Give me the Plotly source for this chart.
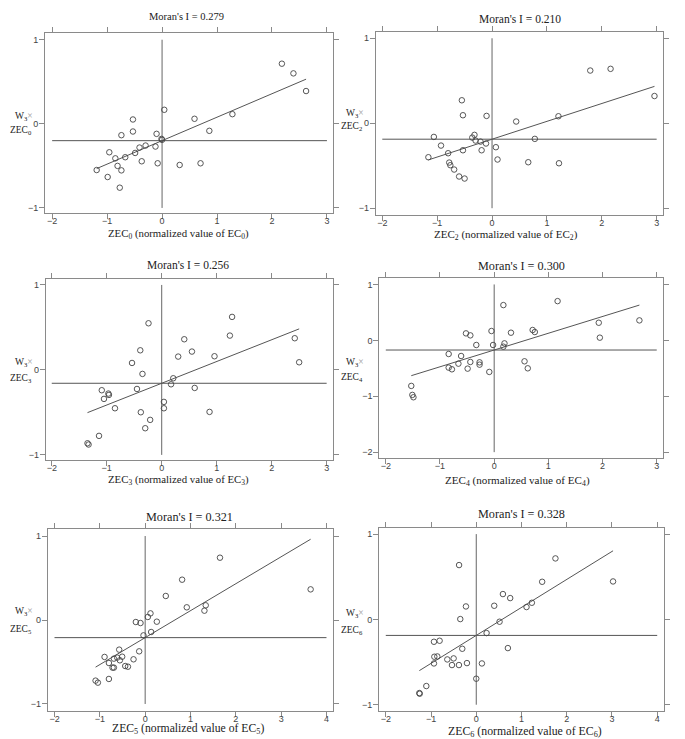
import plotly.graph_objects as go

# ---------------- data ----------------
morans_i = [0.279, 0.210, 0.256, 0.300, 0.321, 0.328]
mean_lag = [-0.20, -0.188, -0.157, -0.173, -0.21, -0.1875]
sub_idx = ["0", "2", "3", "4", "5", "6"]

x_ticks_a = [-2, -1, 0, 1, 2, 3]
x_ticks_b = [-2, -1, 0, 1, 2, 3, 4]
y_ticks_a = [-1, 0, 1]
y_ticks_b = [-2, -1, 0, 1]

zec0_x = [2.18, 2.39, 2.62, 1.28, 0.59, 0.86, 0.04, -0.53, -0.53, -0.74, -0.10, -0.01, 0.00,
          -0.30, -0.41, -0.12, -0.49, -0.67, -0.85, -0.96, -0.37, -0.08, 0.32, 0.70, -0.81,
          -0.74, -1.19, -0.99, -0.77]
zec0_y = [0.715, 0.60, 0.39, 0.115, 0.06, -0.083, 0.167, 0.052, -0.091, -0.135, -0.119, -0.179,
          -0.19, -0.258, -0.282, -0.27, -0.346, -0.397, -0.41, -0.338, -0.445, -0.469, -0.489,
          -0.469, -0.50, -0.553, -0.549, -0.632, -0.759]

zec2_x = [1.79, 2.16, 2.96, 1.21, 0.44, 0.78, -0.55, -0.53, -0.10, -1.06, -0.32, -0.36, -0.30,
          -0.21, -0.11, -0.93, -0.19, -0.53, 0.07, -0.80, 0.10, -1.16, -0.78, -0.76, -0.69,
          0.66, 1.22, -0.60, -0.50]
zec2_y = [0.62, 0.64, 0.32, 0.082, 0.02, -0.184, 0.27, 0.094, 0.086, -0.161, -0.137, -0.169,
          -0.204, -0.216, -0.239, -0.263, -0.318, -0.318, -0.282, -0.353, -0.427, -0.40, -0.463,
          -0.494, -0.545, -0.459, -0.471, -0.627, -0.651]

zec3_x = [1.28, -0.24, 1.24, 0.41, 2.42, -0.39, 0.55, 0.30, 0.96, -0.54, 2.50, -0.35, 0.21,
          0.17, -0.45, 0.60, -1.09, -0.97, -0.96, -1.05, -0.85, 0.04, 0.04, -0.38, 0.87,
          -0.21, -0.30, -1.14, -1.35, -1.33]
zec3_y = [0.624, 0.549, 0.404, 0.361, 0.373, 0.231, 0.216, 0.157, 0.161, 0.082, 0.09, -0.047,
          -0.098, -0.169, -0.224, -0.212, -0.239, -0.278, -0.294, -0.341, -0.451, -0.376,
          -0.451, -0.498, -0.494, -0.588, -0.686, -0.776, -0.863, -0.878]

zec4_x = [1.17, 0.17, 2.68, 1.93, 1.95, 0.71, 0.75, 0.31, -0.05, -0.52, -0.44, -0.33, -0.02,
          0.19, 0.17, -0.84, -0.61, -0.66, -0.44, -0.27, -0.27, -0.84, -0.78, -0.49, -0.09,
          0.56, 0.62, -1.53, -1.51, -1.49]
zec4_y = [0.702, 0.631, 0.357, 0.315, 0.048, 0.185, 0.149, 0.137, 0.167, 0.125, 0.089, -0.083,
          -0.083, -0.054, -0.113, -0.244, -0.28, -0.417, -0.387, -0.393, -0.435, -0.488,
          -0.518, -0.506, -0.565, -0.375, -0.50, -0.815, -0.976, -1.018]

zec5_x = [1.65, 0.815, 3.65, 0.455, 0.918, 1.336, 1.307, 0.117, 0.059, -0.206, -0.103, 0.257,
          0.132, -0.037, -0.573, -0.132, -0.896, -0.507, -0.617, -0.69, -0.558, -0.257, -0.80,
          -0.72, -0.69, -0.44, -0.38, -0.80, -1.094, -1.043]
zec5_y = [0.742, 0.48, 0.365, 0.286, 0.151, 0.175, 0.111, 0.079, 0.036, -0.024, -0.036, -0.02,
          -0.143, -0.183, -0.353, -0.373, -0.44, -0.437, -0.448, -0.46, -0.48, -0.468, -0.512,
          -0.567, -0.567, -0.548, -0.556, -0.702, -0.722, -0.746]

zec6_x = [1.75, -0.38, 1.457, 3.024, 0.589, 0.75, -0.228, 0.397, 1.229, 1.111, -0.353, 0.515,
          0.228, -0.935, -0.81, -0.309, 0.699, -0.927, -0.861, -0.64, -0.50, -0.935, -0.537,
          -0.383, -0.206, 0.125, 0.0, -1.104, -1.258, -1.25]
zec6_y = [0.715, 0.637, 0.441, 0.445, 0.297, 0.25, 0.152, 0.16, 0.195, 0.145, 0.004, -0.027,
          -0.16, -0.262, -0.25, -0.344, -0.336, -0.4375, -0.434, -0.469, -0.457, -0.516,
          -0.535, -0.535, -0.512, -0.516, -0.695, -0.781, -0.863, -0.871]

xs = [zec0_x, zec2_x, zec3_x, zec4_x, zec5_x, zec6_x]
ys = [zec0_y, zec2_y, zec3_y, zec4_y, zec5_y, zec6_y]
xticks = [x_ticks_a, x_ticks_a, x_ticks_a, x_ticks_a, x_ticks_b, x_ticks_b]
yticks = [y_ticks_a, y_ticks_a, y_ticks_a, y_ticks_b, y_ticks_a, y_ticks_a]

# ---------------- layout geometry (pixels) ----------------
W, H = 685, 739
# box: left, right, top, bottom
boxes = [(45, 333, 33, 213), (375.7, 662.7, 32.3, 215), (45.7, 332.7, 279, 460),
         (379.3, 662.7, 278.3, 458.3), (47.7, 333.3, 529.3, 710.7), (379, 664, 527.7, 710.7)]
xranges = [[-2.13, 3.11], [-2.12, 3.11], [-2.11, 3.11], [-2.12, 3.11], [-2.15, 4.15], [-2.15, 4.15]]
yranges = [[-1.06, 1.08], [-1.08, 1.07], [-1.06, 1.07], [-2.11, 1.11], [-1.08, 1.08], [-1.07, 1.075]]
title_pos = [(187, 17, 10.5), (520, 19, 11.5), (188, 265, 11.5), (521.7, 265.7, 12.2),
             (189, 516.7, 12.2), (521, 514.3, 12.2)]
xlab_pos = [(178.5, 234, 10.8), (506, 235, 11.0), (178, 480, 10.8), (517, 481, 11.1),
            (188, 729, 11.7), (525, 731, 11.8)]
ylab_pos = [(8, 117, 130), (339, 113, 127), (8, 362.7, 378), (339, 362.7, 377),
            (8, 611.7, 629), (339, 613, 630.7)]

serif = "Liberation Serif, Times New Roman, serif"
sans = "Liberation Sans, Arial, sans-serif"

fig = go.Figure()
annotations = []

for i in range(6):
    n = "" if i == 0 else str(i + 1)
    xa, ya = "x" + n, "y" + n
    L, R, T, B = boxes[i]
    xt, yt = xticks[i], yticks[i]

    # vertical reference line at x = 0
    fig.add_trace(go.Scatter(x=[0, 0], y=[min(yt), max(yt)], mode="lines",
                             line=dict(color="#666", width=1), xaxis=xa, yaxis=ya,
                             showlegend=False, hoverinfo="skip"))
    # horizontal reference line at mean lag
    fig.add_trace(go.Scatter(x=[min(xt), max(xt)], y=[mean_lag[i], mean_lag[i]], mode="lines",
                             line=dict(color="#555", width=1), xaxis=xa, yaxis=ya,
                             showlegend=False, hoverinfo="skip"))
    # regression line (slope = Moran's I)
    x0, x1 = min(xs[i]), max(xs[i])
    fig.add_trace(go.Scatter(x=[x0, x1],
                             y=[mean_lag[i] + morans_i[i] * x0, mean_lag[i] + morans_i[i] * x1],
                             mode="lines", line=dict(color="#555", width=1),
                             xaxis=xa, yaxis=ya, showlegend=False, hoverinfo="skip"))
    # points
    fig.add_trace(go.Scatter(x=xs[i], y=ys[i], mode="markers",
                             marker=dict(symbol="circle-open", size=5.5, color="#444",
                                         line=dict(width=0.9, color="#444")),
                             xaxis=xa, yaxis=ya, showlegend=False))

    axis_common = dict(showgrid=False, zeroline=False, showline=True, linecolor="#8a8a8a",
                       linewidth=1, mirror="ticks", ticks="outside", ticklen=5,
                       tickcolor="#8a8a8a", tickwidth=1,
                       tickfont=dict(family=sans, size=9, color="#444"))
    fig.layout["xaxis" + n] = dict(axis_common, domain=[L / W, R / W], range=xranges[i],
                                   tickvals=xt, anchor=ya, ticklabelstandoff=-6)
    fig.layout["yaxis" + n] = dict(axis_common, domain=[1 - B / H, 1 - T / H], range=yranges[i],
                                   tickvals=yt, anchor=xa, ticklabelstandoff=-1)

    tx, ty, ts = title_pos[i]
    annotations.append(dict(text="Moran's I = %.3f" % morans_i[i], x=tx / W, y=1 - ty / H,
                            xref="paper", yref="paper", showarrow=False, xanchor="center",
                            yanchor="middle", font=dict(family=serif, size=ts, color="#222")))
    lx, ly, ls = xlab_pos[i]
    s = sub_idx[i]
    annotations.append(dict(text="ZEC<sub>%s</sub> (normalized value of EC<sub>%s</sub>)" % (s, s),
                            x=lx / W, y=1 - ly / H, xref="paper", yref="paper",
                            showarrow=False, xanchor="center", yanchor="middle",
                            font=dict(family=serif, size=ls, color="#222")))
    yx, y1, y2 = ylab_pos[i]
    annotations.append(dict(text="W<sub>3</sub><span style='color:#999'>×</span>",
                            x=(yx + 5) / W, y=1 - y1 / H, xref="paper", yref="paper",
                            showarrow=False, xanchor="left", yanchor="middle",
                            font=dict(family=serif, size=9.5, color="#222")))
    annotations.append(dict(text="ZEC<sub>%s</sub>" % s,
                            x=yx / W, y=1 - y2 / H, xref="paper", yref="paper",
                            showarrow=False, xanchor="left", yanchor="middle",
                            font=dict(family=serif, size=9.5, color="#222")))

fig.update_layout(width=W, height=H, autosize=False, margin=dict(l=0, r=0, t=0, b=0),
                  paper_bgcolor="white", plot_bgcolor="white", annotations=annotations)

fig.write_html("out.html")
